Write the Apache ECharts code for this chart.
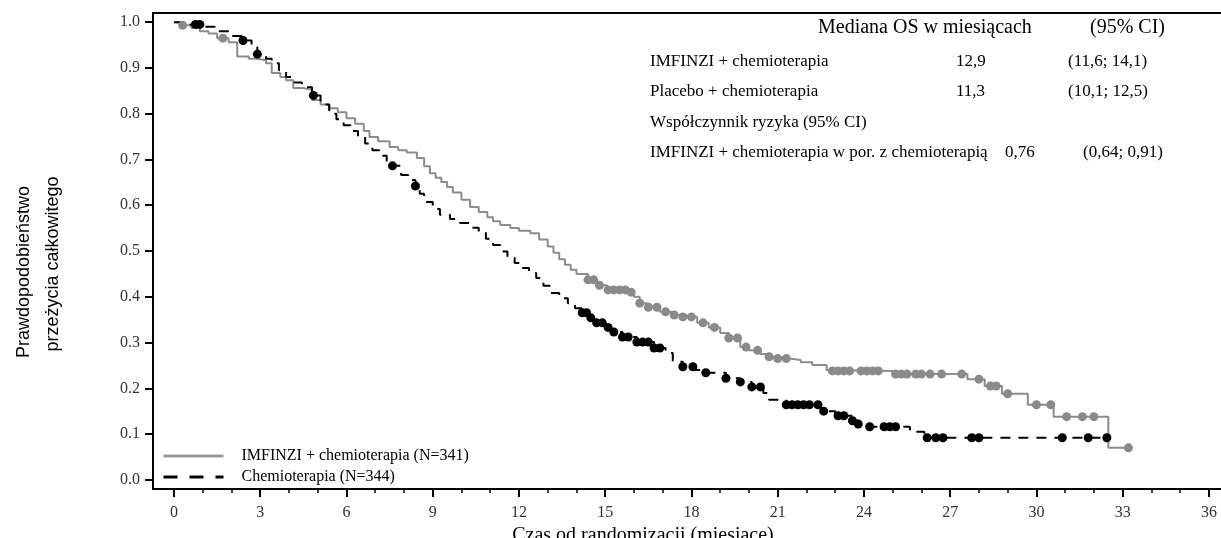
<!DOCTYPE html>
<html>
<head>
<meta charset="utf-8">
<script src="https://cdn.jsdelivr.net/npm/echarts@6/dist/echarts.min.js"></script>
<style>
  html, body { margin: 0; padding: 0; background: #fff; }
  #chart { width: 1221px; height: 538px; }
</style>
</head>
<body>
<div id="chart"></div>
<script>
// IMFINZI + chemioterapia - Kaplan-Meier steps (miesiace, prawdopodobienstwo)
const imfTime = [0, 0.3, 0.6, 0.9, 1.2, 1.5, 1.9, 2.2, 2.6, 2.9, 3.2, 3.4, 3.7, 3.9, 4.15, 4.5, 4.8, 5.1, 5.4, 5.7,
  6.0, 6.3, 6.6, 6.8, 7.1, 7.5, 7.8, 8.1, 8.45, 8.7, 8.9, 9.1, 9.3, 9.5, 9.7, 10.0, 10.3, 10.6, 10.9, 11.1,
  11.35, 11.7, 12.0, 12.4, 12.7, 13.0, 13.2, 13.4, 13.6, 13.8, 14.0, 14.4, 14.7, 15.06, 15.8, 16.0, 16.2, 16.5, 16.9, 17.3,
  17.7, 18.2, 18.6, 19.0, 19.3, 19.7, 20.0, 20.4, 20.7, 21.0, 21.4, 21.8, 22.2, 22.7, 22.9, 25.0, 27.6, 28.2, 28.8, 29.7,
  30.6, 32.5, 33.2];
const imfSurv = [1.0, 0.993, 0.987, 0.98, 0.975, 0.965, 0.956, 0.925, 0.92, 0.917, 0.91, 0.889, 0.88, 0.873, 0.856, 0.852, 0.83, 0.82, 0.812, 0.803,
  0.79, 0.778, 0.762, 0.749, 0.74, 0.727, 0.72, 0.715, 0.703, 0.685, 0.67, 0.66, 0.651, 0.64, 0.628, 0.612, 0.596, 0.585, 0.574, 0.565,
  0.557, 0.55, 0.544, 0.539, 0.525, 0.51, 0.496, 0.482, 0.47, 0.459, 0.45, 0.437, 0.425, 0.415, 0.41, 0.40, 0.386, 0.377, 0.367, 0.36,
  0.356, 0.343, 0.333, 0.321, 0.31, 0.29, 0.283, 0.275, 0.269, 0.265, 0.262, 0.257, 0.251, 0.24, 0.238, 0.231, 0.22, 0.205, 0.188, 0.164,
  0.138, 0.07, 0.07];
const imfCensor = [0.3, 1.7, 14.4, 14.6, 14.8, 15.1, 15.3, 15.5, 15.7, 15.9, 16.2, 16.5, 16.8, 17.1, 17.4, 17.7, 18.0, 18.4, 18.8,
  19.3, 19.6, 19.9, 20.3, 20.7, 21.0, 21.3, 22.9, 23.1, 23.3, 23.5, 23.9, 24.1, 24.3, 24.5, 25.1, 25.3, 25.5, 25.8, 26.0, 26.3, 26.7,
  27.4, 28.0, 28.4, 28.6, 29.0, 30.0, 30.5, 31.05, 31.6, 32.0, 33.2];

// Chemioterapia
const chemTime = [0, 0.5, 1.0, 1.5, 2.0, 2.4, 2.7, 2.9, 3.2, 3.4, 3.65, 3.9, 4.2, 4.45, 4.8, 5.1, 5.4, 5.65, 5.9, 6.15,
  6.4, 6.65, 6.9, 7.15, 7.4, 7.6, 7.9, 8.15, 8.4, 8.55, 8.7, 9.0, 9.25, 9.6, 9.95, 10.3, 10.6, 10.85, 11.1, 11.35,
  11.6, 11.85, 12.1, 12.35, 12.6, 12.85, 13.1, 13.4, 13.7, 13.95, 14.2, 14.45, 14.7, 14.95, 15.2, 15.6, 16.1, 16.7, 17.1, 17.35,
  17.7, 18.1, 18.5, 19.2, 19.7, 20.1, 20.5, 20.7, 21.3, 22.5, 23.0, 23.6, 23.8, 24.2, 25.6, 26.1, 32.45];
const chemSurv = [1.0, 0.995, 0.99, 0.98, 0.97, 0.96, 0.945, 0.93, 0.92, 0.91, 0.895, 0.88, 0.868, 0.858, 0.84, 0.82, 0.80, 0.788, 0.775, 0.762,
  0.75, 0.735, 0.72, 0.708, 0.697, 0.686, 0.666, 0.655, 0.642, 0.625, 0.607, 0.592, 0.579, 0.57, 0.561, 0.551, 0.541, 0.527, 0.513, 0.499,
  0.485, 0.474, 0.463, 0.452, 0.441, 0.424, 0.408, 0.397, 0.386, 0.375, 0.365, 0.354, 0.343, 0.333, 0.323, 0.312, 0.301, 0.288, 0.277, 0.258,
  0.247, 0.240, 0.234, 0.222, 0.214, 0.203, 0.19, 0.175, 0.164, 0.150, 0.140, 0.129, 0.122, 0.116, 0.105, 0.092, 0.092];
const chemCensor = [0.75, 0.9, 2.4, 2.9, 4.85, 7.6, 8.4, 14.2, 14.35, 14.5, 14.7, 14.9, 15.1, 15.3, 15.6, 15.8, 16.1, 16.3, 16.5,
  16.7, 16.9, 17.7, 18.05, 18.5, 19.2, 19.7, 20.1, 20.4, 21.3, 21.5, 21.7, 21.9, 22.1, 22.4, 22.6, 23.1, 23.3, 23.6, 23.8, 24.2,
  24.7, 24.9, 25.1, 26.2, 26.5, 26.75, 27.75, 28.0, 30.9, 31.8, 32.45];

const xTicks = [0, 3, 6, 9, 12, 15, 18, 21, 24, 27, 30, 33, 36];
const xMinorTicks = [0, 1, 2, 3, 4, 5, 6, 7, 8, 9, 10, 11, 12, 13, 14, 15, 16, 17, 18, 19, 20, 21, 22, 23, 24, 25, 26, 27, 28, 29, 30, 31, 32, 33, 34, 35, 36];
const yTicks = [0, 0.1, 0.2, 0.3, 0.4, 0.5, 0.6, 0.7, 0.8, 0.9, 1.0];

const nameImf = 'IMFINZI + chemioterapia (N=341)';
const nameChem = 'Chemioterapia (N=344)';

const serif = '"Liberation Serif", "DejaVu Serif", serif';
const sans = '"Liberation Sans", Arial, sans-serif';

function survAt(times, surv, t) {
  let s = surv[0];
  for (let i = 0; i < times.length; i++) {
    if (times[i] <= t) s = surv[i];
  }
  return s;
}

function label(text, x, y, size, family) {
  return {
    type: 'text',
    position: [x, y],
    style: { text: text, font: size + 'px ' + (family || serif), fill: '#000', verticalAlign: 'middle' }
  };
}

const chart = echarts.init(document.getElementById('chart'));

const xRange = { min: -0.73, max: 36.42 };

const option = {
  animation: false,
  backgroundColor: '#fff',
  grid: { left: 153, right: 0, top: 13, bottom: 49, outerBoundsMode: 'none', containLabel: false },
  legend: {
    data: [
      { name: nameImf, lineStyle: { width: 3, color: '#999' } },
      { name: nameChem, lineStyle: { width: 3, type: [14, 12] } }
    ],
    orient: 'vertical',
    left: 162,
    top: 448,
    padding: 0,
    itemWidth: 60,
    itemHeight: 14,
    itemGap: 5,
    itemStyle: { opacity: 0 },
    textStyle: { fontFamily: serif, fontSize: 16, color: '#000', padding: [0, 0, 0, 13] }
  },
  xAxis: [
    {
      type: 'value',
      ...xRange,
      position: 'bottom',
      splitLine: { show: false },
      axisLine: { onZero: false, lineStyle: { color: '#000', width: 2 } },
      axisTick: { customValues: xTicks, length: 8, lineStyle: { color: '#000', width: 2 } },
      axisLabel: { customValues: xTicks, margin: 16, fontFamily: serif, fontSize: 16, color: '#333' },
      name: 'Czas od randomizacji (miesiace)',
      nameLocation: 'middle',
      nameGap: 33,
      nameTextStyle: { fontFamily: serif, fontSize: 20, color: '#000', padding: [0, 88, 0, 0] }
    },
    {
      type: 'value',
      ...xRange,
      position: 'bottom',
      splitLine: { show: false },
      axisLine: { show: false, onZero: false },
      axisTick: { customValues: xMinorTicks, length: 4, lineStyle: { color: '#000', width: 1.5 } },
      axisLabel: { show: false }
    },
    {
      type: 'value',
      ...xRange,
      position: 'top',
      splitLine: { show: false },
      axisLine: { onZero: false, lineStyle: { color: '#000', width: 2 } },
      axisTick: { show: false },
      axisLabel: { show: false }
    }
  ],
  yAxis: {
    type: 'value',
    min: -0.02,
    max: 1.02,
    splitLine: { show: false },
    axisLine: { show: true, onZero: false, lineStyle: { color: '#000', width: 2 } },
    axisTick: { show: true, customValues: yTicks, length: 8, lineStyle: { color: '#000', width: 2 } },
    axisLabel: {
      customValues: yTicks,
      margin: 13,
      fontFamily: serif,
      fontSize: 16,
      color: '#333',
      formatter: v => v.toFixed(1)
    }
  },
  graphic: [
    { type: 'text', rotation: Math.PI / 2, position: [24, 272], style: { text: 'Prawdopodobieństwo', font: '18px ' + sans, fill: '#000', align: 'center', verticalAlign: 'middle' } },
    { type: 'text', rotation: Math.PI / 2, position: [53, 264], style: { text: 'przeżycia całkowitego', font: '18px ' + sans, fill: '#000', align: 'center', verticalAlign: 'middle' } },
    label('Mediana OS w miesiącach', 818, 28, 20),
    label('(95% CI)', 1090, 28, 20),
    label('IMFINZI + chemioterapia', 650, 62, 17),
    label('12,9', 956, 62, 17),
    label('(11,6; 14,1)', 1068, 62, 17),
    label('Placebo + chemioterapia', 650, 92, 17),
    label('11,3', 956, 92, 17),
    label('(10,1; 12,5)', 1068, 92, 17),
    label('Współczynnik ryzyka (95% CI)', 650, 123, 17),
    label('IMFINZI + chemioterapia w por. z chemioterapią', 650, 153, 17),
    label('0,76', 1005, 153, 17),
    label('(0,64; 0,91)', 1083, 153, 17)
  ],
  series: [
    {
      name: nameImf,
      type: 'line',
      step: 'end',
      symbol: 'none',
      data: imfTime.map((t, i) => [t, imfSurv[i]]),
      lineStyle: { color: '#8c8c8c', width: 2 },
      itemStyle: { color: '#8c8c8c' },
      z: 2
    },
    {
      name: nameChem,
      type: 'line',
      step: 'end',
      symbol: 'none',
      data: chemTime.map((t, i) => [t, chemSurv[i]]),
      lineStyle: { color: '#000', width: 2, type: [10, 8] },
      itemStyle: { color: '#000' },
      z: 3
    },
    {
      name: 'imf-censor',
      type: 'scatter',
      symbolSize: 9,
      data: imfCensor.map(t => [t, survAt(imfTime, imfSurv, t)]),
      itemStyle: { color: '#8a8a8a', opacity: 1 },
      z: 4
    },
    {
      name: 'chem-censor',
      type: 'scatter',
      symbolSize: 9,
      data: chemCensor.map(t => [t, survAt(chemTime, chemSurv, t)]),
      itemStyle: { color: '#000', opacity: 1 },
      z: 5
    }
  ]
};

chart.setOption(option);
</script>
</body>
</html>
